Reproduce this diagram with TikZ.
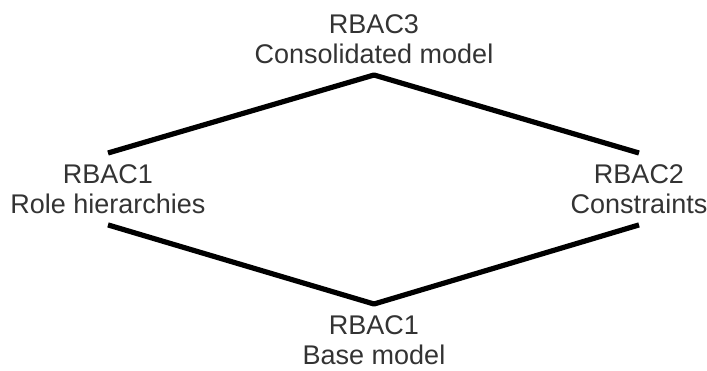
\documentclass[tikz,border=0pt]{standalone}
\usepackage{fontspec}
\setmainfont{Liberation Sans}
\usetikzlibrary{positioning}

\begin{document}
\begin{tikzpicture}[x=0.5pt,y=-0.5pt,line join=round,
	lbl/.style={align=center,inner sep=5.5pt,text=black!80,font=\fontsize{13.5}{15}\selectfont},
	edge/.style={line width=2.6pt}]
		\useasboundingbox (0,0) rectangle (707,370);
		\node[lbl,anchor=south] (rbac3) at (374,75) {RBAC3\\Consolidated model};
		\node[lbl,anchor=north] (rbac1) at (108,153) {RBAC1\\Role hierarchies};
		\node[lbl,anchor=north] (rbac2) at (639,153) {RBAC2\\Constraints};
		\node[lbl,anchor=north] (rbac0) at (374,304) {RBAC1\\Base model};
		\draw[edge](rbac1.north)--(rbac3.south)--(rbac2.north);
		\draw[edge](rbac1.south)--(rbac0.north)--(rbac2.south);
\end{tikzpicture}
\end{document}
